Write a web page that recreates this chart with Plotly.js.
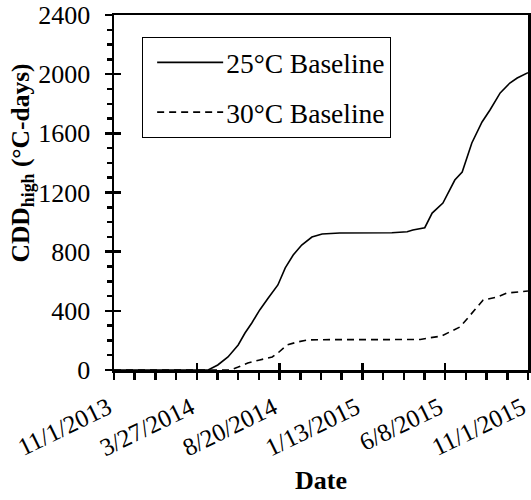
<!DOCTYPE html>
<html>
<head>
<meta charset="utf-8">
<script src="https://cdn.plot.ly/plotly-3.0.1.min.js"></script>
<style>html,body{margin:0;padding:0;background:#fff}#chart{width:531px;height:500px}</style>
</head>
<body>
<div id="chart"></div>
<script>
// 25°C baseline cumulative CDD_high
const dates25 = ["2013-11-01","2014-04-16","2014-05-03","2014-05-21","2014-06-08","2014-06-20","2014-07-02","2014-07-16","2014-07-31","2014-08-17","2014-08-30","2014-09-13","2014-09-28","2014-10-16","2014-11-03","2014-12-04","2015-03-06","2015-04-02","2015-04-12","2015-04-25","2015-05-03","2015-05-16","2015-06-04","2015-06-25","2015-07-08","2015-07-25","2015-08-12","2015-08-26","2015-09-13","2015-09-30","2015-10-13","2015-11-01"];
const values25 = [0,0,34,88,169,250,318,406,487,575,690,777,845,899,920,926,928,935,946,955,962,1061,1129,1284,1338,1535,1677,1758,1873,1940,1974,2010];
// 30°C baseline cumulative CDD_high
const dates30 = ["2013-11-01","2014-05-25","2014-06-08","2014-06-25","2014-07-16","2014-08-07","2014-08-17","2014-09-02","2014-09-20","2014-10-09","2014-10-30","2015-04-25","2015-05-09","2015-06-02","2015-06-16","2015-07-04","2015-07-18","2015-08-03","2015-08-14","2015-09-07","2015-09-25","2015-11-01"];
const values30 = [0,0,20,47,68,88,115,169,189,203,205,206,216,230,257,291,352,426,473,493,520,534];
const seriesNames = ["25\u00B0C Baseline","30\u00B0C Baseline"];
// x-axis ticks
const tickDates = ["2013-11-01","2014-03-27","2014-08-20","2015-01-13","2015-06-08","2015-11-01"];
const tickLabels = ["11/1/2013","3/27/2014","8/20/2014","1/13/2015","6/8/2015","11/1/2015"];
const xRange = ["2013-11-01","2015-11-01 01:00"];
const yRange = [0,2400];
const yTitle = "<b>CDD<sub>high</sub> (\u00B0C-days)</b>";
const xTitle = "<b>Date</b>";

const DAY = 86400000;
const font = "Liberation Serif, Times New Roman, serif";

const traces = [
  {x: dates25, y: values25, name: seriesNames[0], type: "scatter", mode: "lines",
   line: {color: "#000", width: 1.6, dash: "solid"}, legendgroup: "a"},
  {x: dates30, y: values30, name: seriesNames[1], type: "scatter", mode: "lines",
   xaxis: "x2", yaxis: "y2",
   line: {color: "#000", width: 1.6, dash: "7px,5px"}, legendgroup: "b"}
];

const common = {
  showgrid: false, zeroline: false, linecolor: "#000", linewidth: 2.5,
  tickcolor: "#000", tickwidth: 2.5
};

const layout = {
  width: 531, height: 500,
  margin: {l: 114, r: 3, t: 15, b: 130},
  paper_bgcolor: "#fff", plot_bgcolor: "#fff",
  font: {family: font, size: 25, color: "#000"},
  showlegend: true,
  legend: {x: 0.068, y: 0.938, xanchor: "left", yanchor: "top",
    bordercolor: "#000", borderwidth: 1, bgcolor: "#fff",
    font: {family: font, size: 27.5, color: "#000"},
    traceorder: "grouped", tracegroupgap: 11, itemwidth: 73},
  xaxis: Object.assign({}, common, {
    type: "date", range: xRange, mirror: true,
    tickmode: "array", tickvals: tickDates, ticktext: tickLabels,
    ticks: "outside", ticklen: 7, tickangle: -26, ticklabelstandoff: 4, ticklabelshift: -6,
    ticklabeloverflow: "allow",
    tickfont: {family: font, size: 25, color: "#000"},
    minor: {ticks: "outside", ticklen: 7, tickwidth: 2.5, tickcolor: "#000", tick0: xRange[0], dtick: 36.5 * DAY},
    title: {text: xTitle, font: {family: font, size: 26, color: "#000"}, standoff: 11}
  }),
  yaxis: Object.assign({}, common, {
    range: yRange, mirror: true, dtick: 400, tick0: 0,
    ticks: "outside", ticklen: 7, ticklabelstandoff: 9,
    tickfont: {family: font, size: 26, color: "#000"},
    minor: {ticks: "outside", ticklen: 5, tickwidth: 2.5, tickcolor: "#000", dtick: 100}
  }),
  xaxis2: {type: "date", range: xRange, overlaying: "x", anchor: "y2", side: "bottom",
    tickmode: "array", tickvals: tickDates, ticks: "inside", ticklen: 7, tickwidth: 2.5, tickcolor: "#000",
    showticklabels: false, showgrid: false, zeroline: false, showline: false},
  yaxis2: {range: yRange, overlaying: "y", anchor: "x2", side: "left",
    tick0: 0, dtick: 400, ticks: "inside", ticklen: 7, tickwidth: 2.5, tickcolor: "#000",
    showticklabels: false, showgrid: false, zeroline: false, showline: false},
  annotations: [{
    text: yTitle, textangle: -90, showarrow: false,
    xref: "paper", yref: "paper", x: -0.222, y: 0.582, xanchor: "center", yanchor: "middle",
    font: {family: font, size: 25.5, color: "#000"}
  }]
};

Plotly.newPlot("chart", traces, layout, {displayModeBar: false, staticPlot: true}).then(function () {
  document.querySelectorAll(".legend .legendlines path").forEach(function (p) {
    p.setAttribute("d", "M14,0h66");
  });
});
</script>
</body>
</html>
